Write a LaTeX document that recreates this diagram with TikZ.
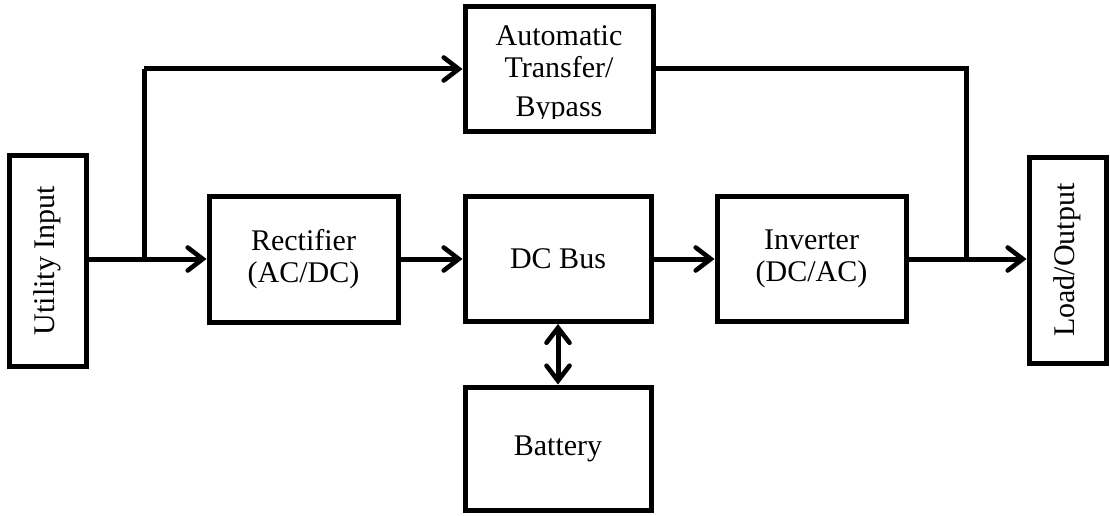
\documentclass[tikz,border=0pt]{standalone}
\usepackage{fontspec}
\setmainfont{Liberation Serif}
\usetikzlibrary{arrows.meta}
\begin{document}
\begin{tikzpicture}[x=1pt,y=-1pt,
  blk/.style={draw=black,line width=5pt,fill=white,inner sep=0pt,align=center,
    font=\fontsize{30}{32}\selectfont},
  lbl/.style={font=\fontsize{30}{32}\selectfont,anchor=base,inner sep=0pt},
  conn/.style={line width=5pt},
  tip/.tip={Straight Barb[length=15pt,width=23pt,line width=4.6pt,line cap=round]},
  arr/.style={conn,-tip},
  darr/.style={conn,tip-tip}]
\useasboundingbox (0,0) rectangle (1110,516);
\node[blk,minimum width=77pt,minimum height=211pt] (util) at (47.5,260.5) {\rotatebox{90}{Utility Input}};
\node[blk,minimum width=189pt,minimum height=126pt] (rect) at (303.5,259) {Rectifier\\(AC/DC)};
\node[blk,minimum width=186pt,minimum height=125pt] (dc) at (558,259) {DC Bus};
\node[blk,minimum width=189pt,minimum height=125pt] (inv) at (811.5,259) {Inverter\\(DC/AC)};
\node[blk,minimum width=77pt,minimum height=206pt] (load) at (1067.5,260) {\rotatebox{90}{Load/Output}};
\node[blk,minimum width=188pt,minimum height=125pt] (ats) at (559,69) {};
\node[blk,minimum width=186pt,minimum height=123pt] (bat) at (558,448.5) {Battery};
\begin{scope}
\clip (468,8) rectangle (650,119);
\node[lbl] (ats1) at (559,46) {Automatic};
\node[lbl] (ats2) at (559,78) {Transfer/};
\node[lbl] (ats3) at (559,117) {Bypass};
\end{scope}
\coordinate (j1) at (144,259);
\coordinate (j2) at (966,259);
\draw[arr] (util.east |- rect.west) -- (rect.west);
\draw[conn] (j1) -- (j1 |- ats.west);
\draw[arr] (j1 |- ats.west) -- (ats.west);
\draw[arr] (rect.east) -- (dc.west);
\draw[arr] (dc.east) -- (inv.west);
\draw[conn] (ats.east) -- (j2 |- ats.east) -- (j2);
\draw[arr] (inv.east) -- (load.west |- inv.east);
\draw[darr] (dc.south) -- (bat.north);
\end{tikzpicture}
\end{document}
